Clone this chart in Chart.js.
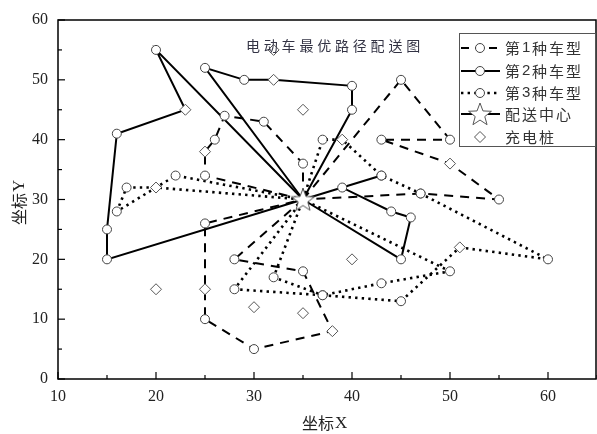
<!DOCTYPE html>
<html>
<head>
<meta charset="utf-8">
<script src="https://cdn.jsdelivr.net/npm/chart.js@4.4.1/dist/chart.umd.min.js"></script>
<style>
  html, body { margin: 0; padding: 0; background: #fff; }
  #wrap { width: 597px; height: 434px; }
</style>
</head>
<body>
<div id="wrap"><canvas id="routeChart" width="597" height="434"></canvas></div>
<script>
// depot and charging stations
const depot = [35, 30];
const stations = [[32, 55], [32, 50], [23, 45], [35, 45], [25, 38], [39, 40], [50, 36], [20, 32],
  [51, 22], [40, 20], [20, 15], [25, 15], [30, 12], [35, 11], [38, 8]];

// vehicle type 1 (dashed)
const route1a = [[35, 30], [25, 34], [25, 38], [26, 40], [27, 44], [31, 43], [35, 36], [35, 30]];
const route1b = [[35, 30], [45, 50], [50, 40], [43, 40], [50, 36], [55, 30], [47, 31], [35, 30]];
const route1c = [[35, 30], [28, 20], [35, 18], [38, 8], [30, 5], [25, 10], [25, 15], [25, 26], [35, 30]];

// vehicle type 2 (solid)
const route2a = [[35, 30], [20, 55], [23, 45], [16, 41], [15, 25], [15, 20], [35, 30]];
const route2b = [[35, 30], [25, 52], [29, 50], [32, 50], [40, 49], [40, 45], [35, 30]];
const route2c = [[35, 30], [43, 34], [39, 32], [44, 28], [46, 27], [45, 20], [35, 30]];

// vehicle type 3 (dotted)
const route3a = [[35, 30], [22, 34], [16, 28], [17, 32], [20, 32], [35, 30]];
const route3b = [[35, 30], [37, 40], [39, 40], [43, 34], [47, 31], [60, 20], [51, 22], [45, 13], [37, 14], [32, 17], [35, 30]];
const route3c = [[35, 30], [28, 15], [37, 14], [43, 16], [50, 18], [35, 30]];

// axis ticks
const xTicks = [10, 20, 30, 40, 50, 60];
const yTicks = [0, 10, 20, 30, 40, 50, 60];

const legendLabels = ['第1种车型', '第2种车型', '第3种车型', '配送中心', '充电桩'];
const titleText = '电动车最优路径配送图';

const cjk = '"Noto Sans CJK SC", "Noto Sans", sans-serif';
const serif = '"Liberation Serif", "DejaVu Serif", serif';

function sameXY(a, b) { return a[0] === b[0] && a[1] === b[1]; }
function isStation(p) { return stations.some(s => sameXY(s, p)); }

// outline star used for the depot
function makeStar(r) {
  const c = document.createElement('canvas');
  const size = Math.ceil(r * 2 + 4);
  c.width = size; c.height = size;
  const g = c.getContext('2d');
  const cx = size / 2, cy = size / 2 + 1;
  g.beginPath();
  for (let i = 0; i < 10; i++) {
    const rad = i % 2 === 0 ? r : r * 0.42;
    const a = -Math.PI / 2 + i * Math.PI / 5;
    const px = cx + rad * Math.cos(a), py = cy + rad * Math.sin(a);
    if (i === 0) g.moveTo(px, py); else g.lineTo(px, py);
  }
  g.closePath();
  g.fillStyle = '#fff';
  g.fill();
  g.strokeStyle = '#555';
  g.lineWidth = 1;
  g.stroke();
  return c;
}
const starImg = makeStar(12);

const lineStyles = {
  1: { width: 2, dash: [9, 7] },
  2: { width: 2, dash: [] },
  3: { width: 2.6, dash: [2.4, 4.2] },
};

function routeDataset(route, type) {
  const st = lineStyles[type];
  return {
    label: 'type' + type,
    data: route.map(p => ({ x: p[0], y: p[1] })),
    showLine: true,
    borderColor: '#000',
    borderWidth: st.width,
    borderDash: st.dash,
    borderCapStyle: 'butt',
    tension: 0,
    fill: false,
    pointStyle: 'circle',
    pointRadius: route.map(p => (sameXY(p, depot) || isStation(p)) ? 0 : 4.5),
    pointBackgroundColor: '#fff',
    pointBorderColor: '#444',
    pointBorderWidth: 1,
    order: 3,
  };
}

const datasets = [
  routeDataset(route1a, 1), routeDataset(route1b, 1), routeDataset(route1c, 1),
  routeDataset(route2a, 2), routeDataset(route2b, 2), routeDataset(route2c, 2),
  routeDataset(route3a, 3), routeDataset(route3b, 3), routeDataset(route3c, 3),
  {
    label: 'stations',
    data: stations.map(p => ({ x: p[0], y: p[1] })),
    showLine: false,
    pointStyle: 'rectRot',
    pointRadius: 5.5,
    pointBackgroundColor: '#fff',
    pointBorderColor: '#555',
    pointBorderWidth: 1,
    order: 1,
  },
  {
    label: 'depot',
    data: [{ x: depot[0], y: depot[1] }],
    showLine: false,
    pointStyle: starImg,
    pointRadius: 12,
    order: 0,
  },
];

// frame, inward ticks, title, axis titles and legend
const decorations = {
  id: 'decorations',
  afterDraw(chart) {
    const ctx = chart.ctx;
    const a = chart.chartArea;
    const xs = chart.scales.x, ys = chart.scales.y;
    ctx.save();
    ctx.strokeStyle = '#000';
    ctx.lineWidth = 1.5;
    ctx.strokeRect(a.left, a.top, a.right - a.left - 1, a.bottom - a.top);

    // ticks every 5 units, longer at labelled values
    ctx.lineWidth = 1.2;
    for (let v = 10; v <= 65; v += 5) {
      const px = xs.getPixelForValue(v);
      const len = v % 10 === 0 ? 7 : 4;
      ctx.beginPath(); ctx.moveTo(px, a.bottom); ctx.lineTo(px, a.bottom - len); ctx.stroke();
    }
    for (let v = 0; v <= 60; v += 5) {
      const py = ys.getPixelForValue(v);
      const len = v % 10 === 0 ? 7 : 4;
      ctx.beginPath(); ctx.moveTo(a.left, py); ctx.lineTo(a.left + len, py); ctx.stroke();
    }

    // title inside the plot
    ctx.fillStyle = '#334';
    ctx.font = '14px ' + cjk;
    ctx.textBaseline = 'middle';
    ctx.textAlign = 'left';
    let tx = 246;
    for (const ch of titleText) { ctx.fillText(ch, tx, 46); tx += 17.8; }

    // axis titles
    ctx.fillStyle = '#222';
    ctx.font = '16px ' + cjk;
    ctx.textAlign = 'left';
    ctx.fillText('坐标', 302, 423);
    ctx.font = '17px ' + serif;
    ctx.fillText('X', 335, 424);
    ctx.save();
    ctx.translate(19, 200);
    ctx.rotate(-Math.PI / 2);
    ctx.font = '16px ' + cjk;
    ctx.fillText('坐标', -25, 0);
    ctx.font = '17px ' + serif;
    ctx.fillText('Y', 8, 1);
    ctx.restore();

    // legend box
    const lx = 459, ly = 33, lw = 136, lh = 113;
    ctx.fillStyle = '#fff';
    ctx.fillRect(lx, ly, lw, lh);
    ctx.strokeStyle = '#555';
    ctx.lineWidth = 1;
    ctx.strokeRect(lx + 0.5, ly + 0.5, lw, lh);
    const rows = [48, 71, 93, 114, 137];
    const sx0 = 461, sx1 = 500, mx = 480;
    rows.forEach((ry, i) => {
      ctx.strokeStyle = '#000';
      if (i < 4) {
        const st = i === 3 ? lineStyles[2] : lineStyles[i + 1];
        ctx.save();
        ctx.lineWidth = st.width;
        ctx.setLineDash(i === 0 ? [8, 6] : st.dash);
        ctx.beginPath(); ctx.moveTo(sx0, ry); ctx.lineTo(sx1, ry); ctx.stroke();
        ctx.restore();
      }
      if (i < 3) {
        ctx.beginPath(); ctx.arc(mx, ry, 4.5, 0, Math.PI * 2);
        ctx.fillStyle = '#fff'; ctx.fill();
        ctx.strokeStyle = '#444'; ctx.lineWidth = 1; ctx.stroke();
      } else if (i === 3) {
        ctx.drawImage(starImg, mx - starImg.width / 2, ry - starImg.height / 2);
      } else {
        ctx.beginPath();
        ctx.moveTo(mx, ry - 5.5); ctx.lineTo(mx + 5.5, ry); ctx.lineTo(mx, ry + 5.5); ctx.lineTo(mx - 5.5, ry);
        ctx.closePath();
        ctx.fillStyle = '#fff'; ctx.fill();
        ctx.strokeStyle = '#555'; ctx.lineWidth = 1; ctx.stroke();
      }
      ctx.fillStyle = '#333';
      ctx.textAlign = 'left';
      ctx.textBaseline = 'middle';
      let cx = 505;
      for (const ch of legendLabels[i]) {
        const digit = /[0-9]/.test(ch);
        ctx.font = digit ? '15px "Liberation Sans", Arial, sans-serif' : '15px ' + cjk;
        ctx.fillText(ch, cx, ry);
        cx += digit ? 10 : 17;
      }
    });
    ctx.restore();
  },
};

const ctx = document.getElementById('routeChart').getContext('2d');
window.routeChart = new Chart(ctx, {
  type: 'scatter',
  data: { datasets: datasets },
  options: {
    responsive: false,
    animation: false,
    devicePixelRatio: 1,
    layout: { autoPadding: false, padding: { top: 20, right: 0, left: 0, bottom: 0 } },
    plugins: { legend: { display: false }, tooltip: { enabled: false }, title: { display: false } },
    scales: {
      x: {
        type: 'linear',
        min: 10,
        max: 65,
        afterBuildTicks: (scale) => { scale.ticks = xTicks.map(v => ({ value: v })); },
        afterFit: (scale) => {
          scale.height = 55;
          scale.paddingLeft = 0;
          scale.paddingRight = 0;
        },
        grid: { display: false, drawTicks: false },
        border: { display: false },
        ticks: { padding: 8, color: '#222', font: { family: serif, size: 16 }, maxRotation: 0 },
      },
      y: {
        type: 'linear',
        min: 0,
        max: 60,
        afterBuildTicks: (scale) => { scale.ticks = yTicks.map(v => ({ value: v })); },
        afterFit: (scale) => {
          scale.width = 58;
          scale.paddingTop = 0;
          scale.paddingBottom = 0;
        },
        grid: { display: false, drawTicks: false },
        border: { display: false },
        ticks: { padding: 10, color: '#222', font: { family: serif, size: 16 } },
      },
    },
  },
  plugins: [decorations],
});
</script>
</body>
</html>
